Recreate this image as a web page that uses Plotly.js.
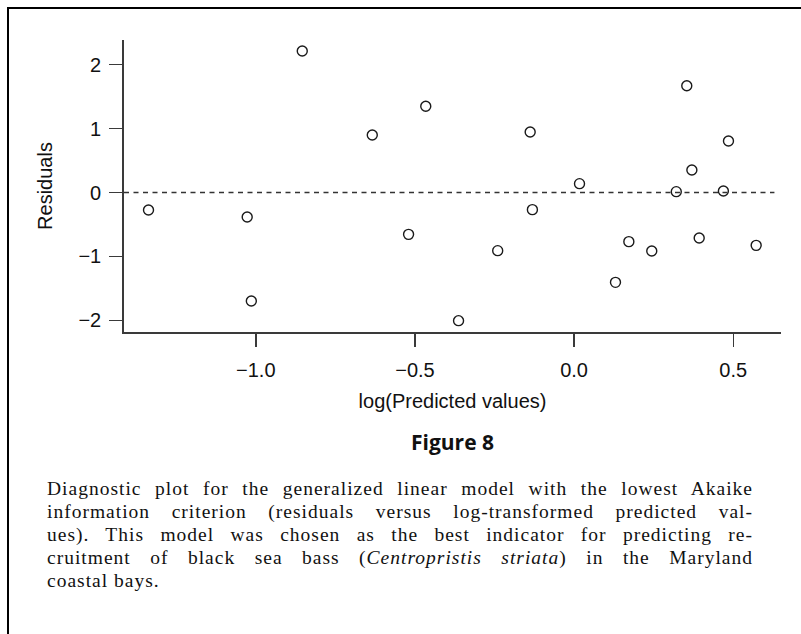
<!DOCTYPE html>
<html>
<head>
<meta charset="utf-8">
<script src="https://cdn.plot.ly/plotly-3.0.1.min.js"></script>
<style>
  html, body { margin: 0; padding: 0; background: #fff; }
  #wrap { position: relative; width: 801px; height: 634px; overflow: hidden; background: #fff; }
  #frame { position: absolute; left: 7px; top: 7px; width: 900px; height: 800px;
           border-left: 2.5px solid #000; border-top: 2.5px solid #000; }
  #chart { position: absolute; left: 0; top: 0; width: 801px; height: 634px; }
  #caption { position: absolute; left: 47px; top: 477px; width: 706px;
             font-family: "Liberation Serif", "DejaVu Serif", "Times New Roman", serif;
             font-size: 19.5px; letter-spacing: 1px; line-height: 23px; color: #111; }
  #caption div { text-align: justify; text-align-last: justify; white-space: nowrap; }
  #caption div.last { text-align-last: left; }
</style>
</head>
<body>
<div id="wrap">
  <div id="chart"></div>
  <div id="frame"></div>
  <div id="caption">
    <div>Diagnostic plot for the generalized linear model with the lowest Akaike</div>
    <div>information criterion (residuals versus log-transformed predicted val-</div>
    <div>ues). This model was chosen as the best indicator for predicting re-</div>
    <div>cruitment of black sea bass (<i>Centropristis striata</i>) in the Maryland</div>
    <div class="last">coastal bays.</div>
  </div>
</div>
<script>
// log of the fitted values from the GLM
const logPredicted = [-1.337, -1.027, -1.014, -0.854, -0.634, -0.520, -0.466, -0.363,
                      -0.240, -0.138, -0.131, 0.017, 0.130, 0.172, 0.244, 0.321,
                      0.354, 0.370, 0.393, 0.469, 0.485, 0.572];
// matching residuals
const residuals = [-0.273, -0.383, -1.695, 2.21, 0.898, -0.654, 1.347, -2.003,
                   -0.909, 0.945, -0.268, 0.138, -1.404, -0.768, -0.914, 0.013,
                   1.669, 0.352, -0.711, 0.023, 0.805, -0.826];

const xTicks = [-1.0, -0.5, 0.0, 0.5];
const xTickText = ['\u22121.0', '\u22120.5', '0.0', '0.5'];
const yTicks = [-2, -1, 0, 1, 2];
const yTickText = ['\u22122', '\u22121', '0', '1', '2'];

const axisColor = '#3a3a3a';
const sans = 'Liberation Sans, Arial, sans-serif';

const trace = {
  type: 'scatter',
  mode: 'markers',
  x: logPredicted,
  y: residuals,
  marker: { symbol: 'circle-open', size: 10, color: '#1a1a1a', line: { width: 1.4, color: '#1a1a1a' } },
  hoverinfo: 'x+y',
  showlegend: false
};

const layout = {
  width: 801,
  height: 634,
  margin: { l: 124, r: 20, t: 40, b: 302 },
  paper_bgcolor: 'rgba(0,0,0,0)',
  plot_bgcolor: 'rgba(0,0,0,0)',
  font: { family: sans, color: '#111', size: 20 },
  xaxis: {
    range: [-1.414, 0.650],
    tickvals: xTicks,
    ticktext: xTickText,
    ticks: 'outside',
    ticklen: 13,
    tickwidth: 1.5,
    tickcolor: axisColor,
    showline: true,
    linecolor: axisColor,
    linewidth: 1.8,
    showgrid: false,
    zeroline: false,
    tickfont: { family: sans, size: 20, color: '#111' },
    ticklabelstandoff: 6,
    title: { text: 'log(Predicted values)', font: { family: sans, size: 20, color: '#111' }, standoff: 14 },
    automargin: false
  },
  yaxis: {
    range: [-2.18, 2.383],
    tickvals: yTicks,
    ticktext: yTickText,
    ticks: 'outside',
    ticklen: 13,
    tickwidth: 1.5,
    tickcolor: axisColor,
    showline: true,
    linecolor: axisColor,
    linewidth: 1.8,
    showgrid: false,
    zeroline: false,
    tickfont: { family: sans, size: 20, color: '#111' },
    ticklabelstandoff: 4,
    title: { text: 'Residuals', font: { family: sans, size: 20, color: '#111' }, standoff: 20 },
    automargin: false
  },
  shapes: [{
    type: 'line', xref: 'paper', x0: 0, x1: 0.99, yref: 'y', y0: 0, y1: 0,
    line: { color: '#333', width: 1.3, dash: '5px,4.5px' }
  }],
  annotations: [{
    text: '<b>Figure 8</b>', xref: 'paper', yref: 'paper', x: 0.5, y: -0.378,
    xanchor: 'center', yanchor: 'middle', showarrow: false,
    font: { family: 'Open Sans, Noto Sans, sans-serif', size: 21, color: '#111' }
  }]
};

Plotly.newPlot('chart', [trace], layout, { displayModeBar: false, staticPlot: true });
</script>
</body>
</html>
